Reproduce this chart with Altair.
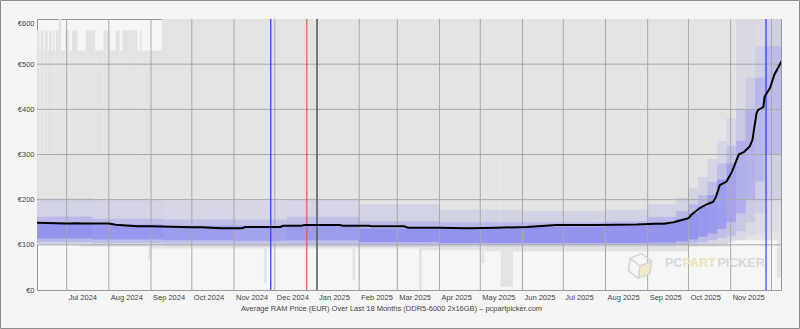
import altair as alt
import pandas as pd

FONT = "Liberation Sans"
TXT = "#444444"
TITLE = "Average RAM Price (EUR) Over Last 18 Months (DDR5-6000 2x16GB) \u2013 pcpartpicker.com"

# ---------------- data ----------------
# average price line (EUR)
avg_dates = [
    "2024-06-09T06:00", "2024-07-01", "2024-07-09", "2024-07-12", "2024-08-01", "2024-08-06",
    "2024-08-22", "2024-09-01", "2024-10-01", "2024-10-08", "2024-10-23", "2024-11-07",
    "2024-11-09", "2024-12-05", "2024-12-07", "2024-12-20", "2024-12-23", "2025-01-18",
    "2025-01-20", "2025-02-08", "2025-02-10", "2025-03-06", "2025-03-09", "2025-04-01",
    "2025-04-22", "2025-05-13", "2025-06-04", "2025-06-26", "2025-07-25", "2025-08-24",
    "2025-09-07", "2025-09-13", "2025-09-20", "2025-09-25", "2025-10-01", "2025-10-03", "2025-10-09",
    "2025-10-14", "2025-10-19", "2025-10-21", "2025-10-22", "2025-10-24", "2025-10-29",
    "2025-11-02", "2025-11-07", "2025-11-11", "2025-11-15", "2025-11-17", "2025-11-20",
    "2025-11-21", "2025-11-25", "2025-11-26", "2025-11-30", "2025-12-01", "2025-12-03", "2025-12-08T12:00",
]
avg_price = [
    149, 147, 148, 147, 147, 144.5,
    141, 141, 139, 139, 136.5, 136.5,
    139.5, 139.5, 142, 142, 143.8, 143.8,
    142, 142, 141, 141, 138, 138,
    136.5, 138, 139.5, 143.8, 143.8, 145,
    146.7, 146.7, 150, 154, 159, 166, 181,
    189, 195, 205, 214, 232, 240,
    262, 300, 306, 318, 332, 391,
    398, 405, 428, 448, 457, 476, 507,
]

# upper edge of the price range (highest listing), by period
upper_start = [
    "2024-06-09", "2024-06-11", "2024-06-12", "2024-06-14", "2024-06-15", "2024-06-17",
    "2024-06-18", "2024-06-20", "2024-06-21", "2024-06-22", "2024-06-23", "2024-06-25",
    "2024-06-27", "2024-06-30", "2024-07-03", "2024-07-05", "2024-07-09", "2024-07-15",
    "2024-07-22", "2024-07-28", "2024-08-02", "2024-08-06", "2024-08-09", "2024-08-11",
    "2024-08-22", "2024-08-24", "2024-08-25", "2024-09-09",
]
upper_end = upper_start[1:] + ["2025-12-09"]
upper_top = [
    575, 530, 575, 530, 575, 530,
    575, 530, 575, 530, 575, 620,
    530, 575, 530, 575, 530, 575,
    530, 575, 530, 575, 530, 575,
    530, 575, 530, 620,
]

# lower edge of the price range (cheapest listing), by period
lower_start = [
    "2024-06-09", "2024-07-10", "2024-08-30", "2024-09-01", "2024-11-23", "2024-11-25",
    "2025-01-27", "2025-01-29", "2025-03-17", "2025-03-19", "2025-05-02", "2025-05-04",
    "2025-05-16", "2025-05-25", "2025-10-01", "2025-11-01", "2025-12-05",
]
lower_end = lower_start[1:] + ["2025-12-09"]
lower_bottom = [101, 96, 66, 92, 15, 92, 22, 92, 0, 88, 60, 86, 7, 85, 95, 110, 27]

# distribution of listing prices (faint / medium / dense bands), by period
heat_start = [
    "2024-06-09", "2024-07-20", "2024-09-10", "2024-11-01", "2024-12-10", "2025-02-01",
    "2025-04-01", "2025-06-01", "2025-08-01", "2025-09-01", "2025-09-22", "2025-10-01",
    "2025-10-08", "2025-10-15", "2025-10-22", "2025-10-29", "2025-11-05", "2025-11-12",
    "2025-11-19", "2025-11-26",
]
heat_end = heat_start[1:] + ["2025-12-09"]
faint_lo = [102, 100, 98, 96, 96, 96, 96, 96, 96, 96, 98, 98, 100, 100, 102, 105, 110, 120, 125, 130]
faint_hi = [203, 200, 198, 198, 200, 190, 178, 175, 178, 190, 205, 225, 250, 290, 330, 380, 600, 620, 620, 620]
mid_lo = [106, 104, 103, 102, 102, 101, 100, 100, 100, 100, 102, 104, 106, 110, 115, 120, 130, 150, 170, 200]
mid_hi = [162, 158, 156, 156, 162, 152, 150, 150, 152, 162, 175, 190, 210, 240, 280, 320, 400, 470, 540, 620]
core_lo = [114, 112, 110, 109, 110, 106, 104, 104, 104, 105, 108, 112, 118, 125, 135, 150, 170, 200, 240, 300]
core_hi = [148, 145, 142, 142, 145, 136, 138, 140, 142, 150, 158, 170, 185, 210, 245, 280, 330, 400, 470, 540]
density = [1.0, 0.95, 0.85, 0.8, 0.85, 1.0, 1.0, 1.0, 1.0, 1.0, 1.0, 1.0, 0.95, 0.9, 0.85, 0.75, 0.6, 0.55, 0.5, 0.45]

grid_prices = [100, 200, 300, 400, 500]
grid_months = [
    "2024-07-01", "2024-08-01", "2024-09-01", "2024-10-01", "2024-11-01", "2024-12-01",
    "2025-01-01", "2025-02-01", "2025-03-01", "2025-04-01", "2025-05-01", "2025-06-01",
    "2025-07-01", "2025-08-01", "2025-09-01", "2025-10-01", "2025-11-01", "2025-12-01",
]
label_months = grid_months[:-1]

event_dates = ["2024-11-28", "2024-12-24T12:00", "2025-01-01", "2025-11-27"]
event_names = ["Thanksgiving", "Christmas", "New Year", "Thanksgiving"]
EVENT_COLORS = {"Thanksgiving": "#2a3cff", "Christmas": "#ee5555", "New Year": "#444444"}


def to_dt(values):
    return pd.to_datetime(pd.Series(values), format="ISO8601")


# ---------------- tables ----------------
avg_df = pd.DataFrame({"date": to_dt(avg_dates), "price": avg_price})
upper_df = pd.DataFrame({"start": to_dt(upper_start), "end": to_dt(upper_end),
                         "top": upper_top, "mid": 300})
lower_df = pd.DataFrame({"start": to_dt(lower_start), "end": to_dt(lower_end),
                         "bottom": lower_bottom, "mid": 300})
BASE_OP = {"faint": 0.09, "mid": 0.15, "core": 0.27}
rows = []
for i in range(len(heat_start)):
    for lvl, lo, hi in (("faint", faint_lo[i], faint_hi[i]),
                        ("mid", mid_lo[i], mid_hi[i]),
                        ("core", core_lo[i], core_hi[i])):
        rows.append({"start": heat_start[i], "end": heat_end[i], "lo": lo, "hi": hi,
                     "op": BASE_OP[lvl] * density[i]})
heat_df = pd.DataFrame(rows)
heat_df["start"] = to_dt(heat_df["start"].tolist())
heat_df["end"] = to_dt(heat_df["end"].tolist())
gy_df = pd.DataFrame({"price": grid_prices})
gx_df = pd.DataFrame({"date": to_dt(grid_months)})
ev_df = pd.DataFrame({"when": to_dt(event_dates), "name": event_names,
                      "col": [EVENT_COLORS[n] for n in event_names]})
one = pd.DataFrame({"k": [0]})

# ---------------- scales / axes ----------------
xscale = alt.Scale(domain=[alt.DateTime(year=2024, month=6, date=9, hours=5),
                           alt.DateTime(year=2025, month=12, date=8)])
yscale = alt.Scale(domain=[0, 600], nice=False)


def dt(s):
    y, m, d = s.split("-")
    return alt.DateTime(year=int(y), month=int(m), date=int(d))


xaxis = alt.Axis(values=[dt(s) for s in label_months], format="%b %Y", labelAlign="left",
                 labelOffset=1.5, labelPadding=3, labelFontSize=7.5, labelColor=TXT, labelFont=FONT,
                 labelFlush=False, labelOverlap=False, ticks=False, domain=False, grid=False,
                 title=TITLE, titleFont=FONT, titleFontSize=7.5, titleFontWeight="normal",
                 titleColor=TXT, titleX=354, titleY=18.5, titleBaseline="middle", titleAlign="center")
yaxis = alt.Axis(values=[0, 100, 200, 300, 400, 500, 600], labelExpr="'\u20ac' + datum.value",
                 labelPadding=3, labelFontSize=7.5, labelColor=TXT, labelFont=FONT,
                 labelBaseline={"condition": {"test": "datum.value == 600", "value": "top"}, "value": "middle"},
                 labelFlush=False, ticks=False, domain=False, grid=False, title=None)


def X(field):
    return alt.X(field, type="temporal", scale=xscale, axis=xaxis)


def Y(field):
    return alt.Y(field, type="quantitative", scale=yscale, axis=yaxis)


upper = alt.Chart(upper_df).mark_rect(color="#e3e3e3", clip=True).encode(
    x=X("start"), x2="end:T", y=Y("top"), y2="mid:Q")
lower = alt.Chart(lower_df).mark_rect(color="#e3e3e3", clip=True).encode(
    x=X("start"), x2="end:T", y=Y("bottom"), y2="mid:Q")
heat = alt.Chart(heat_df).mark_rect(color="#3030ff", clip=True).encode(
    x=X("start"), x2="end:T", y=Y("lo"), y2="hi:Q",
    opacity=alt.Opacity("op:Q", scale=None))
grid_y = alt.Chart(gy_df).mark_rule(color="#a9a9a9", strokeWidth=1).encode(y=Y("price"))
grid_x = alt.Chart(gx_df).mark_rule(color="#a9a9a9", strokeWidth=1).encode(x=X("date"))
events = alt.Chart(ev_df).mark_rule(strokeWidth=1.2).encode(
    x=X("when"), color=alt.Color("col:N", scale=None, legend=None))
line = alt.Chart(avg_df).mark_line(color="#000000", strokeWidth=2, clip=True).encode(
    x=X("date"), y=Y("price"))

# watermark (logo cube + wordmark)
CUBE_FACE = "M0,0L0.87,-0.5L0.87,0.5L0,1Z"
CUBE = "M0,-1L0.87,-0.5L0.87,0.5L0,1L-0.87,0.5L-0.87,-0.5Z M0,0L0,1 M0,0L0.87,-0.5 M0,0L-0.87,-0.5"
cube_face = alt.Chart(one).mark_point(shape=CUBE_FACE, filled=True, color="#f1e9cc", opacity=1,
                                      size=620, angle=8).encode(x=alt.value(603), y=alt.value(247))
cube = alt.Chart(one).mark_point(shape=CUBE, filled=False, color="#d6d6d6", opacity=1,
                                 strokeWidth=1.5, size=620, angle=8).encode(
    x=alt.value(603), y=alt.value(247))
WM = dict(font=FONT, fontWeight="bold", fontSize=12.5, align="left", baseline="alphabetic")
wm1 = alt.Chart(one).mark_text(text="PC", color="#d9d9d9", **WM).encode(
    x=alt.value(628), y=alt.value(248))
wm2 = alt.Chart(one).mark_text(text="PART", color="#eee2b8", **WM).encode(
    x=alt.value(645.5), y=alt.value(248))
wm3 = alt.Chart(one).mark_text(text="PICKER", color="#d9d9d9", **WM).encode(
    x=alt.value(680.5), y=alt.value(248))
border = alt.Chart(one).mark_rect(fill="transparent", stroke="#8c8c8c", strokeWidth=1).encode(
    x=alt.value(-36.5), x2=alt.value(762.5), y=alt.value(-18.5), y2=alt.value(309.5))

chart = alt.layer(upper, lower, heat, grid_y, grid_x, cube_face, cube, wm1, wm2, wm3,
                  events, line, border).properties(
    width=744, height=271,
    padding={"left": 37, "top": 19, "right": 19, "bottom": 39},
    autosize=alt.AutoSizeParams(type="none"),
).configure(background="#f5f5f5").configure_view(stroke="#999999", strokeWidth=1, fill="#f6f6f6")

chart.save("out.html", embed_options={"renderer": "svg", "actions": False})
